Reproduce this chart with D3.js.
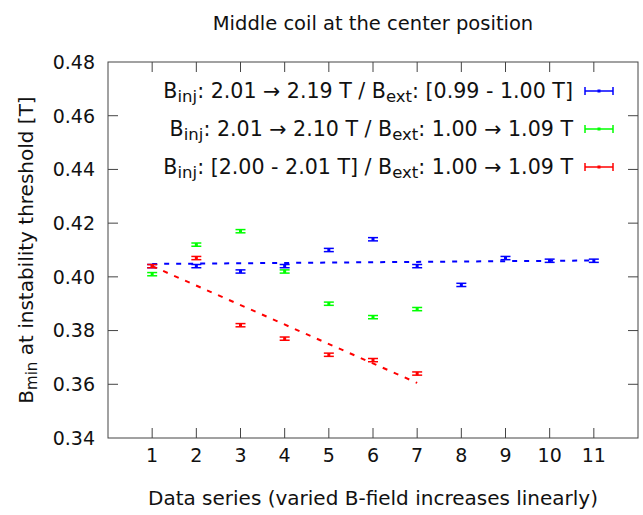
<!DOCTYPE html>
<html>
<head>
<meta charset="utf-8">
<script src="https://cdn.jsdelivr.net/npm/d3@7"></script>
<style>
  body { margin: 0; background: #fff; }
  text { font-family: "DejaVu Sans", sans-serif; fill: #111; }
</style>
</head>
<body>
<div id="chart"></div>
<script>
// data series index
const seriesX = [1, 2, 3, 4, 5, 6, 7, 8, 9, 10, 11];
// B_min values [T]
const blueVals = [0.404, 0.404, 0.402, 0.404, 0.410, 0.414, 0.404, 0.397, 0.407, 0.406, 0.406];
const greenVals = [0.401, 0.412, 0.417, 0.402, 0.390, 0.385, 0.388];
const redVals = [0.404, 0.407, 0.382, 0.377, 0.371, 0.369, 0.364];
const errVal = 0.0006;
// linear fits (endpoints)
const blueFit = [[1, 0.4048], [11, 0.4061]];
const redFit = [[1, 0.4040], [7, 0.3605]];
const yTicks = [0.34, 0.36, 0.38, 0.40, 0.42, 0.44, 0.46, 0.48];

const width = 643, height = 515;
const margin = {left: 108, right: 5, top: 62, bottom: 77};

const svg = d3.select('#chart').append('svg')
    .attr('width', width)
    .attr('height', height);

const x = d3.scaleLinear().domain([0, 12]).range([margin.left, width - margin.right]);
const y = d3.scaleLinear().domain([0.34, 0.48]).range([height - margin.bottom, margin.top]);

const axisColor = '#444';
const tickLen = 10;

// border
svg.append('rect')
    .attr('x', x(0)).attr('y', y(0.48))
    .attr('width', x(12) - x(0)).attr('height', y(0.34) - y(0.48))
    .attr('fill', 'none').attr('stroke', axisColor).attr('stroke-width', 1);

// y ticks (left + mirrored right)
const yt = svg.append('g');
yTicks.forEach(t => {
    if (t > 0.34 && t < 0.48) {
        yt.append('line').attr('x1', x(0)).attr('x2', x(0) + tickLen)
            .attr('y1', y(t)).attr('y2', y(t)).attr('stroke', axisColor);
        yt.append('line').attr('x1', x(12)).attr('x2', x(12) - tickLen)
            .attr('y1', y(t)).attr('y2', y(t)).attr('stroke', axisColor);
    }
    yt.append('text').attr('x', 95).attr('y', y(t)).attr('dy', '0.36em')
        .attr('text-anchor', 'end').style('font-size', '19px')
        .text(t.toFixed(2));
});

// x ticks (bottom + mirrored top)
const xt = svg.append('g');
seriesX.forEach(t => {
    xt.append('line').attr('x1', x(t)).attr('x2', x(t))
        .attr('y1', y(0.34)).attr('y2', y(0.34) - tickLen).attr('stroke', axisColor);
    xt.append('line').attr('x1', x(t)).attr('x2', x(t))
        .attr('y1', y(0.48)).attr('y2', y(0.48) + tickLen).attr('stroke', axisColor);
    xt.append('text').attr('x', x(t)).attr('y', 462)
        .attr('text-anchor', 'middle').style('font-size', '19px')
        .text(t);
});

// title
svg.append('text').attr('x', (x(0) + x(12)) / 2).attr('y', 30)
    .attr('text-anchor', 'middle').style('font-size', '19.5px')
    .text('Middle coil at the center position');

// x label
svg.append('text').attr('x', (x(0) + x(12)) / 2).attr('y', 505)
    .attr('text-anchor', 'middle').style('font-size', '20px')
    .text('Data series (varied B-field increases linearly)');

// y label
const yl = svg.append('text')
    .attr('transform', `translate(33, ${(y(0.34) + y(0.48)) / 2}) rotate(-90)`)
    .attr('text-anchor', 'middle').style('font-size', '20px');
yl.append('tspan').text('B');
yl.append('tspan').attr('baseline-shift', '-25%').style('font-size', '15px').text('min');
yl.append('tspan').text(' at instability threshold [T]');

function fitLine(pts, color) {
    svg.append('path')
        .attr('d', d3.line().x(d => x(d[0])).y(d => y(d[1]))(pts))
        .attr('fill', 'none').attr('stroke', color)
        .attr('stroke-width', 2).attr('stroke-dasharray', '5,7');
}

function errorBars(vals, color) {
    const g = svg.append('g').attr('stroke', color).attr('stroke-width', 1.5);
    vals.forEach((v, i) => {
        const cx = x(seriesX[i]);
        g.append('line').attr('x1', cx).attr('x2', cx)
            .attr('y1', y(v - errVal)).attr('y2', y(v + errVal));
        g.append('line').attr('x1', cx - 5).attr('x2', cx + 5)
            .attr('y1', y(v - errVal)).attr('y2', y(v - errVal));
        g.append('line').attr('x1', cx - 5).attr('x2', cx + 5)
            .attr('y1', y(v + errVal)).attr('y2', y(v + errVal));
        g.append('rect').attr('x', cx - 1.5).attr('y', y(v) - 1.5)
            .attr('width', 3).attr('height', 3).attr('fill', color).attr('stroke', 'none');
    });
}

errorBars(blueVals, '#0000ff');
fitLine(blueFit, '#0000ff');
errorBars(greenVals, '#00ff00');
errorBars(redVals, '#ff0000');
fitLine(redFit, '#ff0000');

// legend
const legend = [
    {color: '#0000ff', parts: [['B'], ['inj', 'sub'], [': 2.01 \u2192 2.19 T / B'], ['ext', 'sub'], [': [0.99 - 1.00 T]']]},
    {color: '#00ff00', parts: [['B'], ['inj', 'sub'], [': 2.01 \u2192 2.10 T / B'], ['ext', 'sub'], [': 1.00 \u2192 1.09 T']]},
    {color: '#ff0000', parts: [['B'], ['inj', 'sub'], [': [2.00 - 2.01 T] / B'], ['ext', 'sub'], [': 1.00 \u2192 1.09 T']]}
];
const rowY = [91, 129, 167];
legend.forEach((row, i) => {
    const ty = rowY[i];
    const t = svg.append('text').attr('x', 573).attr('y', ty).attr('dy', '0.36em')
        .attr('text-anchor', 'end').style('font-size', '20.6px');
    row.parts.forEach(p => {
        const s = t.append('tspan').text(p[0]);
        if (p[1] === 'sub') s.attr('baseline-shift', '-25%').style('font-size', '16.5px');
    });
    const g = svg.append('g').attr('stroke', row.color).attr('stroke-width', 1.5);
    g.append('line').attr('x1', 585).attr('x2', 613).attr('y1', ty).attr('y2', ty);
    g.append('line').attr('x1', 585).attr('x2', 585).attr('y1', ty - 4).attr('y2', ty + 4);
    g.append('line').attr('x1', 613).attr('x2', 613).attr('y1', ty - 4).attr('y2', ty + 4);
    g.append('rect').attr('x', 597.5).attr('y', ty - 1.5).attr('width', 3).attr('height', 3)
        .attr('fill', row.color).attr('stroke', 'none');
});
</script>
</body>
</html>
